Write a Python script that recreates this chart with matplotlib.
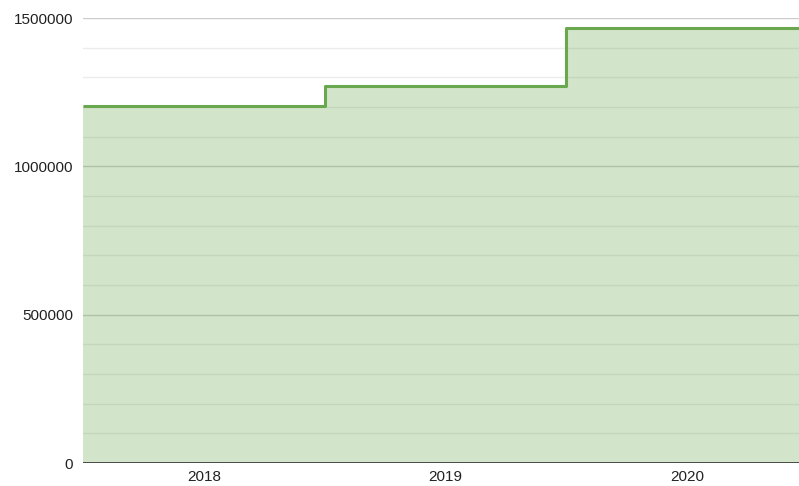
import numpy as np
import matplotlib
matplotlib.use("Agg")
import matplotlib.pyplot as plt
from matplotlib.ticker import MultipleLocator, FuncFormatter

categories = ["2018", "2019", "2020"]
values = [1205000, 1272000, 1465000]
yticks = [0, 500000, 1000000, 1500000]

plt.rcParams['font.family'] = ['Liberation Sans', 'DejaVu Sans']

fig = plt.figure(figsize=(7.99, 4.86), dpi=100)
ax = fig.add_axes([83/799, 1-463/486, (799-83)/799, (463-18)/486])

x = np.arange(len(categories))
edges = np.arange(len(values) + 1) - 0.5

# gridlines
ax.set_ylim(0, 1500000)
ax.set_xlim(-0.5, 2.463)
ax.yaxis.set_major_locator(MultipleLocator(500000))
ax.yaxis.set_minor_locator(MultipleLocator(100000))
ax.grid(which='major', axis='y', color='#cccccc', linewidth=1)
ax.grid(which='minor', axis='y', color='#ebebeb', linewidth=1)
ax.set_axisbelow(True)

ax.stairs(values, edges, fill=True, color='#6aa84f', alpha=0.3, linewidth=0, zorder=2)
ax.stairs(values, edges, baseline=None, color='#6aa84f', linewidth=2.2, zorder=3,
          joinstyle='round')

ax.axhline(0, color='#333333', linewidth=1.2, zorder=4)

ax.set_xticks(x)
ax.set_xticklabels(categories)
ax.set_yticks(yticks)
ax.yaxis.set_major_formatter(FuncFormatter(lambda v, p: f"{int(v)}"))
ax.tick_params(axis='both', which='both', length=0, labelsize=11, labelcolor='#222222')
ax.tick_params(axis='x', pad=5)
ax.tick_params(axis='y', pad=7)
for s in ax.spines.values():
    s.set_visible(False)

fig.savefig("out.png", dpi=100)
